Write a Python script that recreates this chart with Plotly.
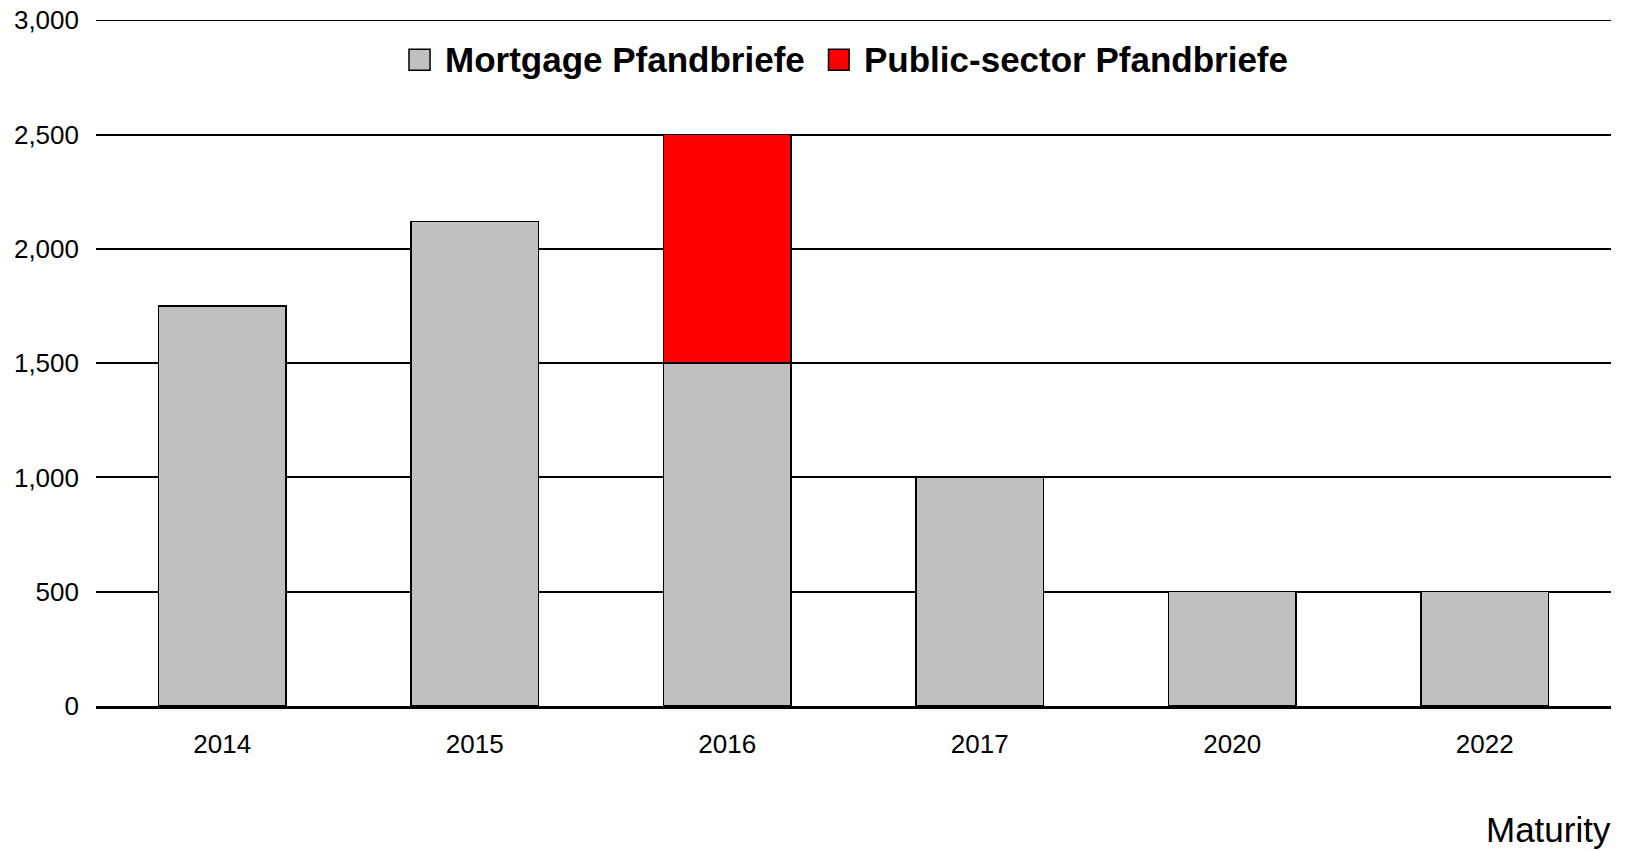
import plotly.graph_objects as go

categories = ["2014", "2015", "2016", "2017", "2020", "2022"]
mortgage = [1750, 2120, 1500, 1000, 500, 500]
public_sector = [0, 0, 1000, 0, 0, 0]
series_names = ["Mortgage Pfandbriefe", "Public-sector Pfandbriefe"]
series_colors = ["#C0C0C0", "#FF0000"]
y_ticks = [0, 500, 1000, 1500, 2000, 2500, 3000]
y_tick_labels = ["0", "500", "1,000", "1,500", "2,000", "2,500", "3,000"]
x_title = "Maturity"

FONT = "Liberation Sans, Arial, Helvetica, sans-serif"

fig = go.Figure()
fig.add_trace(go.Bar(
    x=categories, y=mortgage, name=series_names[0],
    marker=dict(color=series_colors[0], line=dict(color="#000000", width=1.5)),
    width=0.505, showlegend=False,
))
fig.add_trace(go.Bar(
    x=categories, y=public_sector, name=series_names[1],
    marker=dict(color=series_colors[1], line=dict(color="#000000", width=1.5)),
    width=0.505, showlegend=False,
))

# custom legend (boxes + labels)
legend_boxes = [(0.2066, 0.2205), (0.4835, 0.4971)]
legend_text_x = [0.2290, 0.5058]
shapes = []
annotations = []
for i in range(2):
    x0, x1 = legend_boxes[i]
    shapes.append(dict(type="rect", xref="paper", yref="paper",
                       x0=x0, x1=x1, y0=0.9267, y1=0.9573,
                       fillcolor=series_colors[i],
                       line=dict(color="#000000", width=1.5)))
    annotations.append(dict(xref="paper", yref="paper", x=legend_text_x[i], y=0.9421,
                            xanchor="left", yanchor="middle", showarrow=False,
                            text="<b>" + series_names[i] + "</b>",
                            font=dict(family=FONT, size=35, color="#000000")))

# top gridline (drawn explicitly at the last tick)
shapes.append(dict(type="line", xref="paper", yref="y", x0=0, x1=1,
                   y0=y_ticks[-1], y1=y_ticks[-1],
                   line=dict(color="#000000", width=1.5), layer="below"))

annotations.append(dict(xref="paper", yref="paper", x=1.0015, y=-0.18,
                        xanchor="right", yanchor="middle", showarrow=False,
                        text=x_title,
                        font=dict(family=FONT, size=35, color="#000000")))

fig.update_layout(
    width=1627, height=850,
    margin=dict(l=96, r=16, t=20, b=144, pad=0, autoexpand=False),
    paper_bgcolor="white", plot_bgcolor="white",
    barmode="stack",
    font=dict(family=FONT, color="#000000"),
    shapes=shapes, annotations=annotations,
    showlegend=False,
)
fig.update_xaxes(
    type="category", range=[-0.5, 5.5], automargin=False,
    showgrid=False, showline=True, linecolor="#000000", linewidth=3,
    ticks="", tickfont=dict(family=FONT, size=26, color="#000000"),
    ticklabelstandoff=13,
)
fig.update_yaxes(
    range=[0, 3001], tickvals=y_ticks, ticktext=y_tick_labels, automargin=False,
    showgrid=True, gridcolor="#000000", gridwidth=1.5,
    zeroline=False, showline=False,
    ticks="", tickfont=dict(family=FONT, size=26, color="#000000"),
    ticklabelstandoff=16,
)

fig.write_html("out.html")
